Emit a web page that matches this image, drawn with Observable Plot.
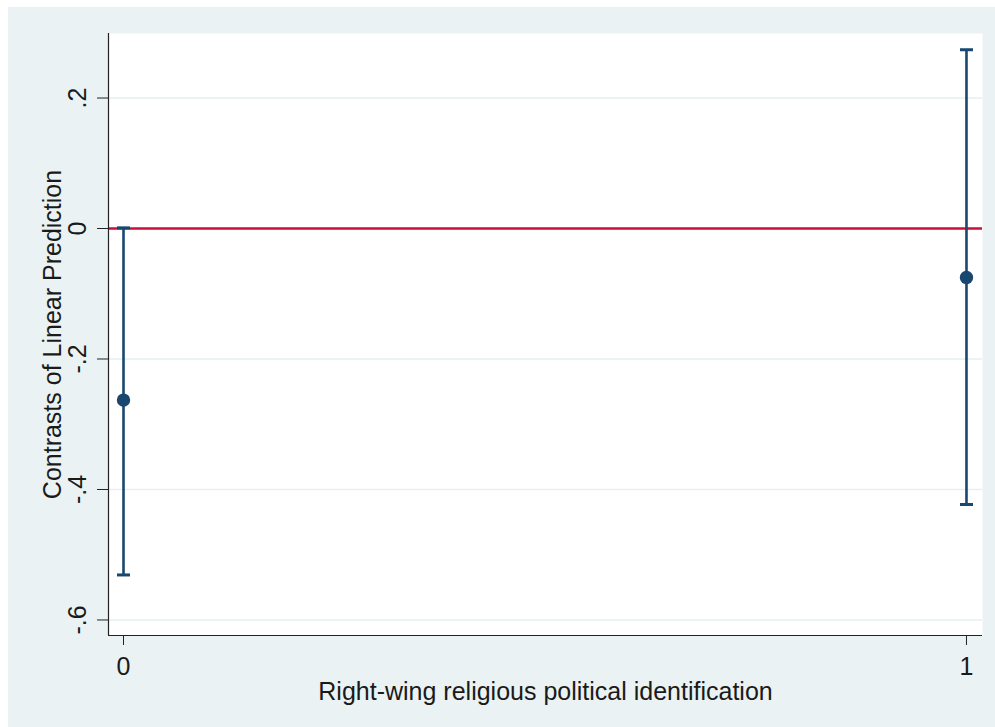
<!DOCTYPE html>
<html>
<head>
<meta charset="utf-8">
<script src="https://cdn.jsdelivr.net/npm/d3@7"></script>
<script src="https://cdn.jsdelivr.net/npm/@observablehq/plot@0.6"></script>
<style>
  html, body { margin: 0; padding: 0; background: #ffffff; }
  #chart { position: absolute; left: 8px; top: 7px; }
</style>
</head>
<body>
<div id="chart"></div>
<script>
// Data
const groups = [0, 1];
const estimates = [-0.263, -0.075];
const lower = [-0.531, -0.423];
const upper = [0.001, 0.274];
const yTicks = [0.2, 0, -0.2, -0.4, -0.6];
const yTickLabels = [".2", "0", "-.2", "-.4", "-.6"];
const xTicks = [0, 1];
const xTickLabels = ["0", "1"];
const xTitle = "Right-wing religious political identification";
const yTitle = "Contrasts of Linear Prediction";

const rows = groups.map((g, i) => ({g, est: estimates[i], lo: lower[i], hi: upper[i]}));
const yTickRows = yTicks.map((v, i) => ({v, label: yTickLabels[i]}));

const navy = "#1a476f";
const capSymbol = {
  draw(ctx, size) {
    const w = Math.sqrt(size / Math.PI);
    ctx.moveTo(-w, 0);
    ctx.lineTo(w, 0);
  }
};

const chart = Plot.plot({
  width: 987,
  height: 720,
  marginLeft: 100,
  marginRight: 13,
  marginTop: 26,
  marginBottom: 92,
  style: {background: "#eaf2f3", fontFamily: "'Liberation Sans', Arial, Helvetica, sans-serif", color: "#1a1a1a"},
  x: {domain: [-0.0178, 1.019]},
  y: {domain: [-0.6238, 0.2989]},
  marks: [
    Plot.frame({fill: "white", stroke: "none"}),
    Plot.gridY(yTicks, {stroke: "#e6eff1", strokeOpacity: 1, strokeWidth: 1.6}),
    Plot.ruleY([0], {stroke: "#c8103a", strokeWidth: 2.5}),
    Plot.ruleX(rows, {x: "g", y1: "lo", y2: "hi", stroke: navy, strokeWidth: 2.6}),
    Plot.dot(rows, {x: "g", y: "lo", symbol: capSymbol, r: 6.5, stroke: navy, strokeWidth: 3, fill: "none"}),
    Plot.dot(rows, {x: "g", y: "hi", symbol: capSymbol, r: 6.5, stroke: navy, strokeWidth: 3, fill: "none"}),
    Plot.dot(rows, {x: "g", y: "est", r: 6.7, fill: navy, stroke: "none"}),
    Plot.ruleX([-0.0178], {stroke: "#222", strokeWidth: 1.2}),
    Plot.ruleY([-0.6238], {stroke: "#222", strokeWidth: 1.2}),
    Plot.axisY({ticks: yTicks, tickSize: 11, tickFormat: () => "", label: null, stroke: "#222"}),
    Plot.text(yTickRows, {y: "v", text: "label", frameAnchor: "left", dx: -31, rotate: -90, textAnchor: "middle", lineAnchor: "middle", fontSize: 25, fill: "#1a1a1a"}),
    Plot.axisX({ticks: xTicks, tickSize: 10, tickPadding: 12, tickFormat: (d) => xTickLabels[xTicks.indexOf(d)], label: null, fontSize: 25, stroke: "#222"}),
    Plot.text([xTitle], {text: (d) => d, frameAnchor: "bottom", dy: 56, textAnchor: "middle", lineAnchor: "middle", fontSize: 25, fill: "#1a1a1a"}),
    Plot.text([yTitle], {text: (d) => d, frameAnchor: "left", dx: -56, rotate: -90, textAnchor: "middle", lineAnchor: "middle", fontSize: 25, fill: "#1a1a1a"})
  ]
});
document.getElementById("chart").appendChild(chart);
</script>
</body>
</html>
